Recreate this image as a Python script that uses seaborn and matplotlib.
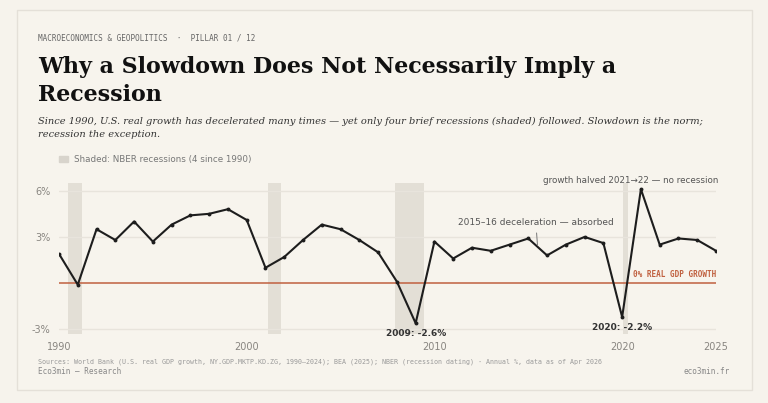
import matplotlib
matplotlib.use("Agg")
import matplotlib.pyplot as plt
import seaborn as sns
import pandas as pd
from matplotlib.patches import Rectangle

years = list(range(1990, 2026))
growth = [1.9, -0.1, 3.5, 2.8, 4.0, 2.7, 3.8, 4.4, 4.5, 4.8, 4.1, 1.0, 1.7, 2.8, 3.8, 3.5,
          2.8, 2.0, 0.1, -2.6, 2.7, 1.6, 2.3, 2.1, 2.5, 2.9, 1.8, 2.5, 3.0, 2.6, -2.2, 6.1,
          2.5, 2.9, 2.8, 2.1]
rec_start = [1990.5, 2001.15, 2007.9, 2020.05]
rec_end = [1991.25, 2001.85, 2009.45, 2020.3]
yticks = [-3, 3, 6]
ytick_labels = ["-3%", "3%", "6%"]
xticks = [1990, 2000, 2010, 2020, 2025]

df = pd.DataFrame({"year": years, "growth": growth})

sns.set_theme(style="white")
bg = "#f6f3ec"
fig = plt.figure(figsize=(7.68, 4.03), dpi=100, facecolor=bg)
fig.patches.append(Rectangle((17/768, 1-390/403), 735/768, 380/403, transform=fig.transFigure,
                             facecolor="#f7f4ed", edgecolor="#e4e0d8", lw=1, zorder=-5))
ax = fig.add_axes([59/768, 1-334/403, (716-59)/768, 151/403])
ax.set_facecolor("none")
ax.set_xlim(1990, 2025)
ax.set_ylim(-3.3, 6.5)
for s, e in zip(rec_start, rec_end):
    ax.axvspan(s, e, color="#e3dfd6", lw=0, zorder=0)
for t in yticks:
    ax.axhline(t, color="#e8e4dc", lw=1, zorder=0.5)
ax.axhline(0, color="#c0603f", lw=1.1, zorder=1)
sns.lineplot(data=df, x="year", y="growth", ax=ax, color="#1d1d1d", lw=1.5, marker="o",
             markersize=2.8, markeredgewidth=0, zorder=3)
for sp in ax.spines.values():
    sp.set_visible(False)
ax.set_xlabel(""); ax.set_ylabel("")
ax.set_yticks(yticks)
ax.set_yticklabels(ytick_labels)
ax.set_xticks(xticks)
ax.set_xticklabels([str(x) for x in xticks])
ax.tick_params(axis="both", length=0, labelsize=7, colors="#888580", pad=6)

ax.text(2025, 0.25, "0% REAL GDP GROWTH", ha="right", va="bottom", fontsize=5.5,
        color="#c0603f", family="DejaVu Sans Mono", fontweight="bold")
ax.text(2009, -2.95, "2009: -2.6%", ha="center", va="top", fontsize=6.5, color="#333", fontweight="semibold")
ax.text(2020, -2.6, "2020: -2.2%", ha="center", va="top", fontsize=6.5, color="#333", fontweight="semibold")
ax.annotate("2015–16 deceleration — absorbed", xy=(2015.5, 2.3), xytext=(2015.4, 3.65),
            ha="center", va="bottom", fontsize=6.5, color="#555",
            arrowprops=dict(arrowstyle="-", color="#777", lw=0.7))
ax.text(2025.1, 6.35, "growth halved 2021→22 — no recession", ha="right", va="bottom",
        fontsize=6.3, color="#555")

ax.add_patch(Rectangle((1990, 7.85), 0.5, 0.4, color="#d8d4cc", clip_on=False, transform=ax.transData))
ax.text(1990.8, 8.05, "Shaded: NBER recessions (4 since 1990)", va="center", fontsize=6.3,
        color="#777")

fig.text(38/768, 1-38/403, "MACROECONOMICS & GEOPOLITICS  ·  PILLAR 01 / 12", fontsize=5.5,
         family="DejaVu Sans Mono", color="#666", va="center")
fig.text(38/768, 1-81/403, "Why a Slowdown Does Not Necessarily Imply a\nRecession",
         fontsize=15.9, family="DejaVu Serif", fontweight="bold", color="#111",
         va="center", linespacing=1.3)
fig.text(38/768, 1-128/403,
         "Since 1990, U.S. real growth has decelerated many times — yet only four brief recessions (shaded) followed. Slowdown is the norm;\nrecession the exception.",
         fontsize=7.1, family="DejaVu Serif", style="italic", color="#333", va="center", linespacing=1.45)
fig.text(38/768, 1-362/403,
         "Sources: World Bank (U.S. real GDP growth, NY.GDP.MKTP.KD.ZG, 1990–2024); BEA (2025); NBER (recession dating) · Annual %, data as of Apr 2026",
         fontsize=4.8, family="DejaVu Sans Mono", color="#999", va="center")
fig.text(38/768, 1-372/403, "Eco3min — Research", fontsize=5.5, family="DejaVu Sans Mono",
         color="#888", va="center")
fig.text(730/768, 1-372/403, "eco3min.fr", fontsize=5.5, family="DejaVu Sans Mono",
         color="#888", va="center", ha="right")
fig.savefig("out.png", dpi=100, facecolor=bg)
